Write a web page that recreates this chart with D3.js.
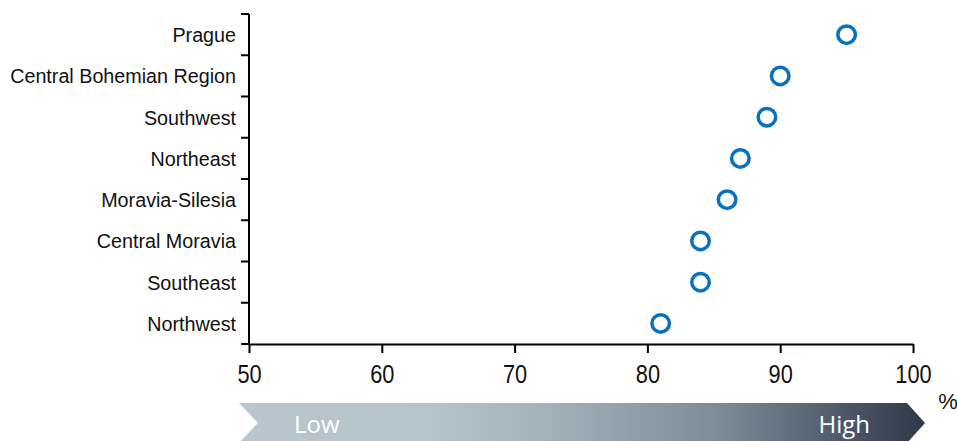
<!DOCTYPE html>
<html>
<head>
<meta charset="utf-8">
<script src="https://cdn.jsdelivr.net/npm/d3@7"></script>
<style>
  html, body { margin: 0; padding: 0; background: #fff; }
  svg { display: block; }
</style>
</head>
<body>
<svg id="chart" width="957" height="441"></svg>
<script>
// Regions, top to bottom
const regions = ["Prague", "Central Bohemian Region", "Southwest", "Northeast",
                 "Moravia-Silesia", "Central Moravia", "Southeast", "Northwest"];
// Share per region, %
const shares = [95, 90, 89, 87, 86, 84, 84, 81];
// X axis ticks
const xTicks = [50, 60, 70, 80, 90, 100];
const scaleLabels = ["Low", "High"];

const svg = d3.select("#chart");
const plotL = 249, plotR = 913, plotT = 14, plotB = 344;

const x = d3.scaleLinear().domain([50, 100]).range([plotL, plotR]);
const y = d3.scaleBand().domain(regions).range([plotT, plotB]);

// Y axis: ticks sit on band boundaries
const yAxis = svg.append("g").attr("transform", `translate(${plotL},0)`);
yAxis.append("line")
  .attr("x1", 0).attr("x2", 0).attr("y1", plotT).attr("y2", plotB)
  .attr("stroke", "#000").attr("stroke-width", 2);
const bounds = regions.map(r => y(r)).concat([plotB]);
yAxis.selectAll("line.tk").data(bounds).join("line")
  .attr("class", "tk")
  .attr("x1", -8).attr("x2", 0)
  .attr("y1", d => d).attr("y2", d => d)
  .attr("stroke", "#000").attr("stroke-width", 2);
yAxis.selectAll("text").data(regions).join("text")
  .attr("transform", d => `translate(-13,${y(d) + y.bandwidth() / 2}) scale(0.94,1)`)
  .attr("text-anchor", "end")
  .attr("dy", "0.36em")
  .attr("font-family", "'Liberation Sans', Arial, sans-serif")
  .attr("font-size", 21)
  .attr("fill", "#111")
  .text(d => d);

// X axis
const xAxis = svg.append("g")
  .attr("transform", `translate(0,${plotB})`)
  .call(d3.axisBottom(x).tickValues(xTicks).tickSize(9).tickPadding(12).tickSizeOuter(0));
xAxis.select(".domain").attr("stroke", "#000").attr("stroke-width", 2);
xAxis.selectAll(".tick line").attr("stroke", "#000").attr("stroke-width", 2);
xAxis.selectAll(".tick text")
  .attr("font-family", "'Liberation Sans', Arial, sans-serif")
  .attr("font-size", 25)
  .attr("fill", "#111")
  .attr("transform", "scale(0.87,1)");

svg.append("text")
  .attr("x", 948).attr("y", 409)
  .attr("text-anchor", "middle")
  .attr("font-family", "'Liberation Sans', Arial, sans-serif")
  .attr("font-size", 22)
  .attr("fill", "#111")
  .text("%");

// Points
svg.append("g").selectAll("circle").data(regions).join("circle")
  .attr("cx", (d, i) => x(shares[i]))
  .attr("cy", d => y(d) + y.bandwidth() / 2)
  .attr("r", 8.75)
  .attr("fill", "#fff")
  .attr("stroke", "#0a70c0")
  .attr("stroke-width", 3.5);

// Low-to-high gradient arrow
const defs = svg.append("defs");
const grad = defs.append("linearGradient").attr("id", "lohi")
  .attr("x1", "0%").attr("x2", "100%").attr("y1", "0%").attr("y2", "0%");
[[0, "#b9c6ce"], [0.28, "#b5c3cb"], [0.45, "#a3b1bb"], [0.7, "#7d8b97"], [1, "#2d3849"]]
  .forEach(([o, c]) => grad.append("stop").attr("offset", o).attr("stop-color", c));

const aL = 239, aR = 925, aT = 403, aB = 443, notch = 19, tip = 18, aM = (aT + aB) / 2;
svg.append("path")
  .attr("d", `M${aL},${aT}L${aR - tip},${aT}L${aR},${aM}L${aR - tip},${aB}L${aL},${aB}L${aL + notch},${aM}Z`)
  .attr("fill", "url(#lohi)");

svg.append("text")
  .attr("x", 294).attr("y", 433)
  .attr("font-family", "'Open Sans', sans-serif")
  .attr("font-size", 24)
  .attr("fill", "#fff")
  .text(scaleLabels[0]);
svg.append("text")
  .attr("x", 870).attr("y", 433)
  .attr("text-anchor", "end")
  .attr("font-family", "'Open Sans', sans-serif")
  .attr("font-size", 24)
  .attr("fill", "#fff")
  .text(scaleLabels[1]);
</script>
</body>
</html>
